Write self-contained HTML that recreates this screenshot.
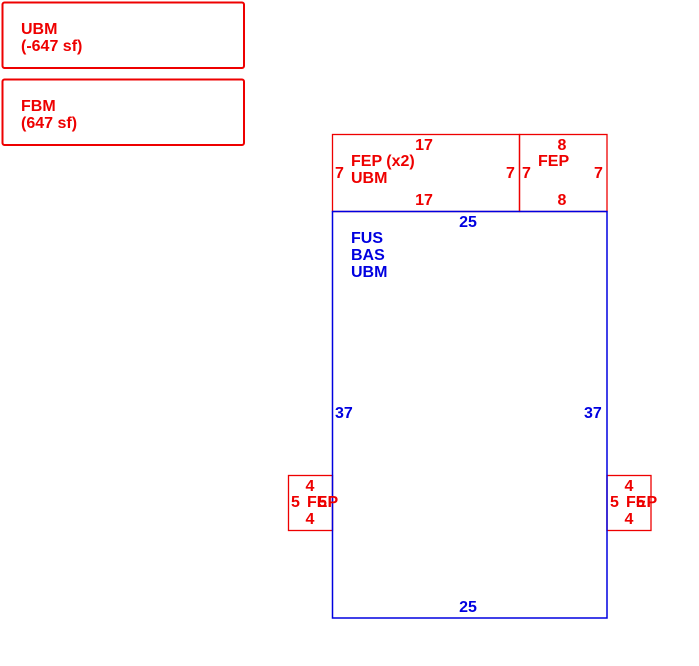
<!DOCTYPE html>
<html><head><meta charset="utf-8"><style>
html,body{margin:0;padding:0;background:#fff;}
svg{display:block}
text{font-family:"Liberation Sans",Arial,sans-serif;font-weight:bold;font-size:16px;}
.r{fill:#ee0000}.b{fill:#0000e0}
</style></head><body>
<svg width="699" height="666" viewBox="0 0 699 666" xmlns="http://www.w3.org/2000/svg">
<rect x="0" y="0" width="699" height="666" fill="#fff"/>
<rect x="2.5" y="2.5" width="241.5" height="65.5" rx="2" fill="none" stroke="#ee0000" stroke-width="2"/>
<rect x="2.5" y="79.5" width="241.5" height="65.5" rx="2" fill="none" stroke="#ee0000" stroke-width="2"/>
<text class="r" x="21" y="34">UBM</text>
<text class="r" x="21" y="51">(-647 sf)</text>
<text class="r" x="21" y="111">FBM</text>
<text class="r" x="21" y="128">(647 sf)</text>

<rect x="332.5" y="134.5" width="187" height="77" fill="none" stroke="#ee0000" stroke-width="1.3"/>
<rect x="519.5" y="134.5" width="87.5" height="77" fill="none" stroke="#ee0000" stroke-width="1.3"/>
<text class="r" x="424" y="150" text-anchor="middle">17</text>
<text class="r" x="424" y="205" text-anchor="middle">17</text>
<text class="r" x="335" y="178">7</text>
<text class="r" x="506" y="178">7</text>
<text class="r" x="351" y="166">FEP (x2)</text>
<text class="r" x="351" y="183">UBM</text>
<text class="r" x="562" y="150" text-anchor="middle">8</text>
<text class="r" x="562" y="205" text-anchor="middle">8</text>
<text class="r" x="522" y="178">7</text>
<text class="r" x="594" y="178">7</text>
<text class="r" x="538" y="166">FEP</text>

<rect x="288.5" y="475.5" width="44" height="55" fill="none" stroke="#ee0000" stroke-width="1.3"/>
<rect x="607" y="475.5" width="44" height="55" fill="none" stroke="#ee0000" stroke-width="1.3"/>
<rect x="332.5" y="211.5" width="274.5" height="406.5" fill="none" stroke="#0000e0" stroke-width="1.5"/>

<text class="r" x="310" y="491" text-anchor="middle">4</text>
<text class="r" x="310" y="524" text-anchor="middle">4</text>
<text class="r" x="291" y="507">5</text>
<text class="r" x="307" y="507">FEP</text>
<text class="r" x="318" y="507">5</text>
<text class="r" x="629" y="491" text-anchor="middle">4</text>
<text class="r" x="629" y="524" text-anchor="middle">4</text>
<text class="r" x="610" y="507">5</text>
<text class="r" x="626" y="507">FEP</text>
<text class="r" x="636" y="507">5</text>

<text class="b" x="468" y="227" text-anchor="middle">25</text>
<text class="b" x="468" y="612" text-anchor="middle">25</text>
<text class="b" x="335" y="418">37</text>
<text class="b" x="584" y="418">37</text>
<text class="b" x="351" y="243">FUS</text>
<text class="b" x="351" y="260">BAS</text>
<text class="b" x="351" y="277">UBM</text>
</svg>
</body></html>
